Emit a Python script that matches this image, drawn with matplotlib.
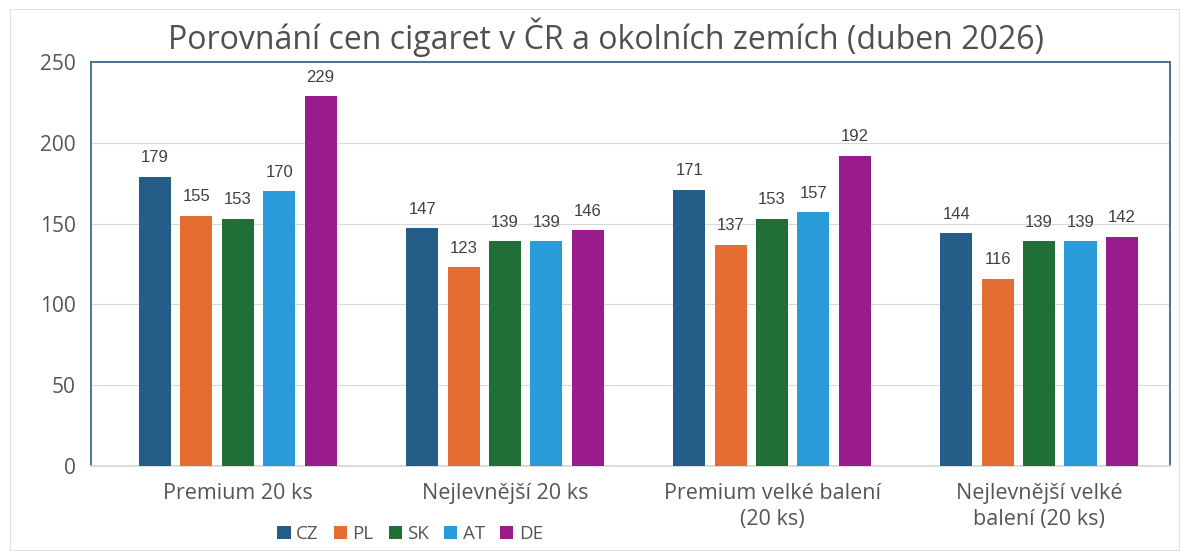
import matplotlib.pyplot as plt
import numpy as np
from matplotlib.patches import Rectangle

# price comparison, April 2026
categories = ['Premium 20 ks', 'Nejlevnější 20 ks', 'Premium velké balení\n(20 ks)',
              'Nejlevnější velké\nbalení (20 ks)']
countries = ['CZ', 'PL', 'SK', 'AT', 'DE']
cz = [179, 147, 171, 144]
pl = [155, 123, 137, 116]
sk = [153, 139, 153, 139]
at = [170, 139, 157, 139]
de = [229, 146, 192, 142]
colors = ['#245d88', '#e46d31', '#1f6f37', '#2a9bd9', '#9a1c8c']

series = [cz, pl, sk, at, de]

fig = plt.figure(figsize=(11.89, 5.54), dpi=100)
ax = fig.add_axes([0.0765, 0.159, 0.9075, 0.729])

x = np.arange(len(categories))
step = 0.155
width = 0.12
for i, (vals, name, col) in enumerate(zip(series, countries, colors)):
    pos = x + (i - 2) * step
    ax.bar(pos, vals, width=width, color=col, label=name, zorder=3)
    for p, v in zip(pos, vals):
        ax.text(p, v + 7, str(v), ha='center', va='bottom', fontsize=12,
                color='#404040', family='Liberation Sans')

ax.set_ylim(0, 250)
ax.set_xlim(-0.55, 3.49)
ax.set_yticks(range(0, 251, 50))
ax.yaxis.grid(True, color='#d9d9d9', linewidth=0.8, zorder=0)
ax.set_xticks(x)
ax.set_xticklabels(categories, fontsize=15.5, color='#555555', family='Open Sans',
                   linespacing=1.35)
ax.tick_params(axis='both', length=0)
ax.tick_params(axis='x', pad=12)
ax.tick_params(axis='y', pad=11, labelsize=15, labelcolor='#555555')
for lab in ax.get_yticklabels():
    lab.set_family('Open Sans')
for s in ax.spines.values():
    s.set_color('#3f6a86')
    s.set_linewidth(1.3)
ax.spines['bottom'].set_color('#d9d9d9')

fig.text(0.51, 0.933, 'Porovnání cen cigaret v ČR a okolních zemích (duben 2026)',
         ha='center', va='center', fontsize=23, color='#505050', family='Open Sans')

leg = fig.legend(loc='center', bbox_to_anchor=(0.345, 0.036), ncol=5, frameon=False,
                 handlelength=0.7, handleheight=0.7, handletextpad=0.3, columnspacing=0.8,
                 prop={'family': 'Open Sans', 'size': 13.5})
for t in leg.get_texts():
    t.set_color('#555555')

fig.patches.append(Rectangle((0.008, 0.008), 0.984, 0.975, transform=fig.transFigure,
                             fill=False, edgecolor='#e0e0e0', linewidth=0.8))

fig.savefig('out.png', dpi=100)
